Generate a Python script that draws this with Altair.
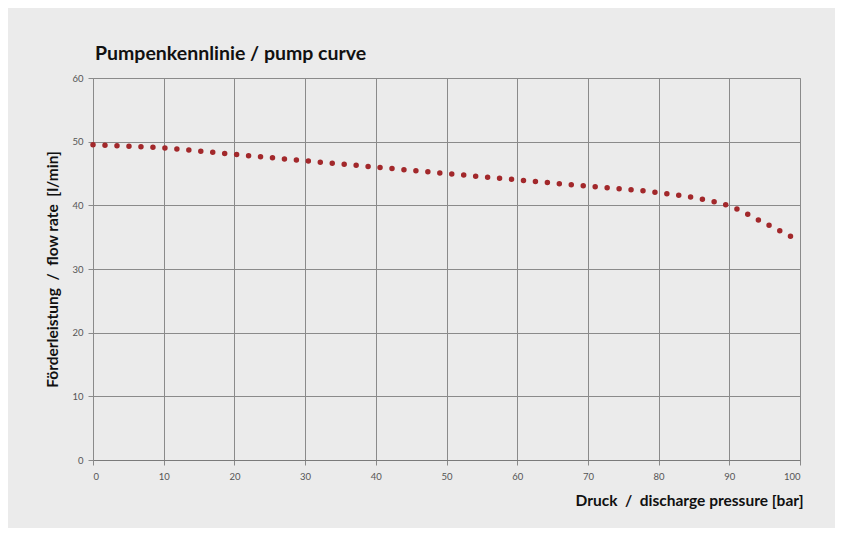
import altair as alt
import pandas as pd

pressure = [0, 10, 20, 30, 40, 50, 60, 70, 80, 85, 90, 95, 100]
flow = [49.5, 49.0, 48.0, 47.0, 46.0, 45.0, 44.0, 43.0, 42.0, 41.2, 39.9, 37.2, 34.4]

df = pd.DataFrame({"pressure": pressure, "flow": flow})

BG = "#ebebeb"
FONT = "Lato"
NB = "\u00a0"

x_title = f"Druck{NB}{NB}/{NB}{NB}discharge pressure [bar]"
y_title = f"Förderleistung{NB}{NB}/{NB}{NB}flow rate{NB}{NB}[l/min]"

line = alt.Chart(df).mark_line(
    color="#a2282b",
    strokeWidth=5.5,
    strokeCap="round",
    strokeDash=[0, 12],
    interpolate="monotone",
).encode(
    x=alt.X(
        "pressure:Q",
        scale=alt.Scale(domain=[0, 100], nice=False),
        axis=alt.Axis(
            values=[0, 10, 20, 30, 40, 50, 60, 70, 80, 90, 100],
            title=x_title,
            titleAnchor="end",
            titleAlign="right",
            titleX=710,
            titleY=45,
            titleBaseline="alphabetic",
            titleFont=FONT,
            titleFontSize=15.5,
            titleFontWeight="bold",
            titleColor="#111111",
            labelFont=FONT,
            labelFontSize=9.5,
            labelColor="#555555",
            labelPadding=6,
            tickSize=5,
            tickColor="#8a8a8a",
            domainColor="#7a7a7a",
            gridColor="#8a8a8a",
            gridOpacity=1,
            gridWidth=1,
        ),
    ),
    y=alt.Y(
        "flow:Q",
        scale=alt.Scale(domain=[0, 60], nice=False),
        axis=alt.Axis(
            values=[0, 10, 20, 30, 40, 50, 60],
            title=y_title,
            titleX=-41,
            titleY=191,
            titleAngle=270,
            titleAlign="center",
            titleBaseline="middle",
            titleFont=FONT,
            titleFontSize=15.5,
            titleFontWeight="bold",
            titleColor="#111111",
            labelFont=FONT,
            labelFontSize=9.5,
            labelColor="#555555",
            labelPadding=5,
            tickSize=5,
            tickColor="#8a8a8a",
            domainColor="#8a8a8a",
            gridColor="#8a8a8a",
            gridOpacity=1,
            gridWidth=1,
        ),
    ),
)

chart = line.properties(
    width=707,
    height=382,
    autosize=alt.AutoSizeParams(type="none"),
    padding={"left": 85, "top": 70, "right": 35, "bottom": 68},
    background=BG,
    title=alt.TitleParams(
        text="Pumpenkennlinie / pump curve",
        anchor="start",
        frame="group",
        font=FONT,
        fontSize=19.5,
        fontWeight="bold",
        color="#111111",
        baseline="alphabetic",
        offset=-6,
        dx=2,
    ),
).configure_view(stroke="#b0b0b0", fill=BG)

chart.save("out.html", embed_options={"renderer": "svg", "actions": False})
